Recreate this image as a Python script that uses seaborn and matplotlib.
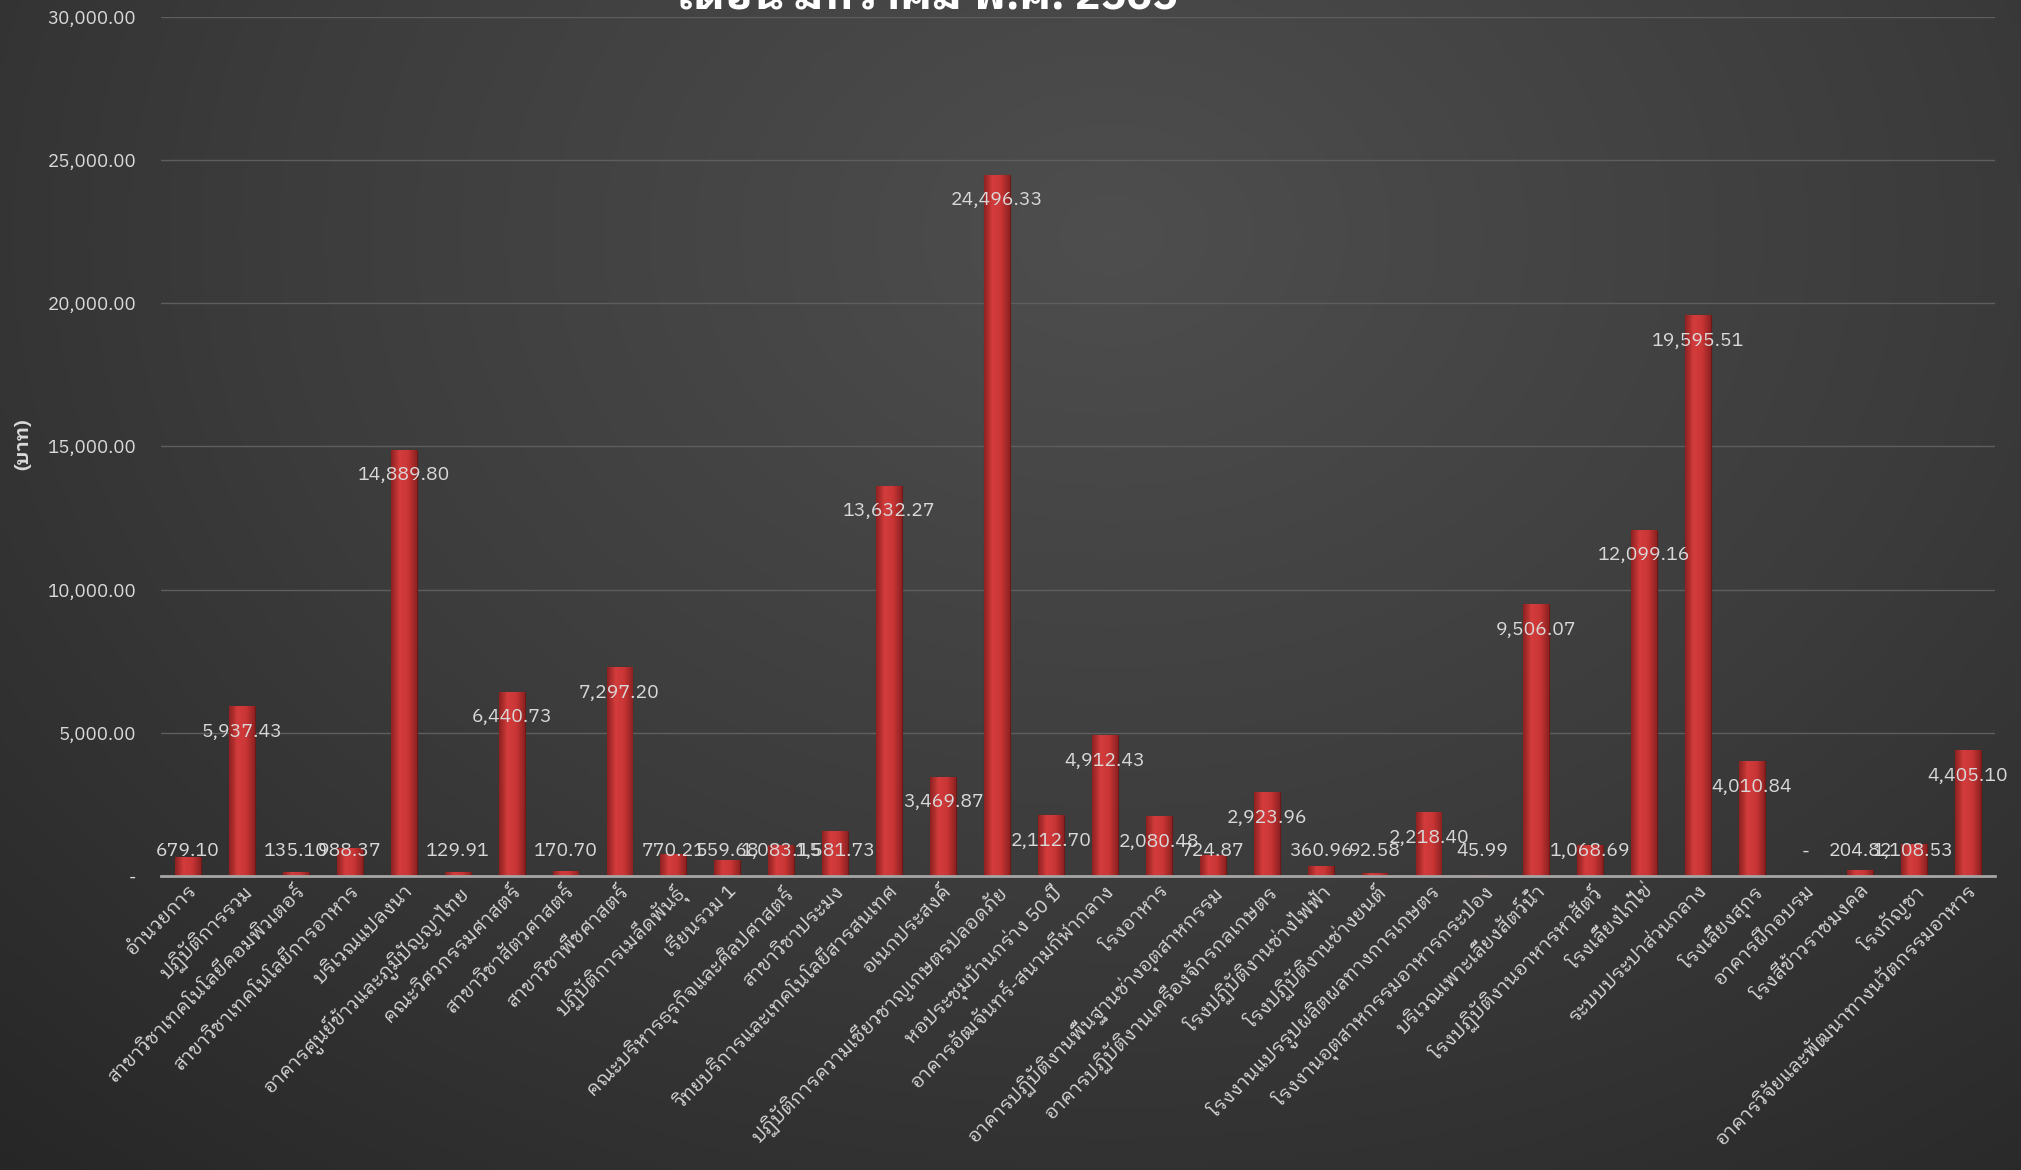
import numpy as np
import pandas as pd
import seaborn as sns
import matplotlib.pyplot as plt
from matplotlib import font_manager as fm
from matplotlib.ft2font import FT2Font
from matplotlib.colors import LinearSegmentedColormap
from matplotlib.ticker import FuncFormatter

buildings = [
    'อำนวยการ', 'ปฏิบัติการรวม', 'สาขาวิชาเทคโนโลยีคอมพิวเตอร์', 'สาขาวิชาเทคโนโลยีการอาหาร',
    'บริเวณแปลงนา', 'อาคารศูนย์ข้าวและภูมิปัญญาไทย', 'คณะวิศวกรรมศาสตร์', 'สาขาวิชาสัตวศาสตร์',
    'สาขาวิชาพืชศาสตร์', 'ปฏิบัติการเมล็ดพันธุ์', 'เรียนรวม 1', 'คณะบริหารธุรกิจและศิลปศาสตร์',
    'สาขาวิชาประมง', 'วิทยบริการและเทคโนโลยีสารสนเทศ', 'อเนกประสงค์',
    'ปฏิบัติการความเชี่ยวชาญเกษตรปลอดภัย', 'หอประชุมบ้านกร่าง 50 ปี', 'อาคารอัฒจันทร์-สนามกีฬากลาง',
    'โรงอาหาร', 'อาคารปฏิบัติงานพื้นฐานช่างอุตสาหกรรม', 'อาคารปฏิบัติงานเครื่องจักรกลเกษตร',
    'โรงปฏิบัติงานช่างไฟฟ้า', 'โรงปฏิบัติงานช่างยนต์', 'โรงงานแปรรูปผลิตผลทางการเกษตร',
    'โรงงานอุตสาหกรรมอาหารกระป๋อง', 'บริเวณเพาะเลี้ยงสัตว์น้ำ', 'โรงปฏิบัติงานอาหารหาสัตว์',
    'โรงเลี้ยงไก่ไข่', 'ระบบประปาส่วนกลาง', 'โรงเลี้ยงสุกร', 'อาคารฝึกอบรม', 'โรงสีข้าวราชมงคล',
    'โรงกัญชา', 'อาคารวิจัยและพัฒนาทางนวัตกรรมอาหาร',
]
cost = [
    679.10, 5937.43, 135.10, 988.37, 14889.80, 129.91, 6440.73, 170.70,
    7297.20, 770.21, 559.68, 1083.15, 1581.73, 13632.27, 3469.87,
    24496.33, 2112.70, 4912.43, 2080.48, 724.87, 2923.96,
    360.96, 92.58, 2218.40, 45.99, 9506.07, 1068.69,
    12099.16, 19595.51, 4010.84, 0.0, 204.82, 1108.53, 4405.10,
]
title = 'เดือน มกราคม พ.ศ. 2565'

df = pd.DataFrame({'building': buildings, 'cost': cost})

# find a font that has Thai glyphs, prefer a looped one
thai_font = None
best = -1
for f in fm.fontManager.ttflist:
    try:
        if 0x0E01 not in FT2Font(f.fname).get_charmap():
            continue
    except Exception:
        continue
    score = 0
    if 'Thai' in f.name:
        score += 1
    if 'Looped' in f.name or 'Tahoma' in f.name or 'Leelawadee' in f.name:
        score += 2
    if score > best:
        best = score
        thai_font = f.name

sns.set_theme(style='dark')
fams = [thai_font, 'DejaVu Sans'] if thai_font else ['DejaVu Sans']
plt.rcParams['font.family'] = fams

fig = plt.figure(figsize=(20.21, 11.70), dpi=100)

# dark radial background
bg = fig.add_axes([0, 0, 1, 1], zorder=-5)
yy, xx = np.mgrid[0:1:300j, 0:1:500j]
r = np.sqrt(((xx - 0.55) / 0.75) ** 2 + ((yy - 0.2) / 1.0) ** 2)
cm = LinearSegmentedColormap.from_list('bg', ['#4e4e4e', '#3c3c3c', '#262626'])
bg.imshow(r, cmap=cm, aspect='auto', extent=[0, 1, 1, 0], vmin=0, vmax=1.1)
bg.axis('off')

ax = fig.add_axes([0.0797, 0.2513, 0.9073, 0.7342])
ax.set_facecolor('none')
sns.barplot(data=df, x='building', y='cost', ax=ax, color='#c93535', width=0.48,
            edgecolor='#6e1818', linewidth=0.8, saturation=1, zorder=3)

# shade each bar: darker sides, lighter middle
shade = LinearSegmentedColormap.from_list('bar', ['#8e2222', '#d43c3c', '#c93535', '#8e2222'])
grad = np.linspace(0, 1, 64).reshape(1, -1)
for p in ax.patches:
    x0, w, h = p.get_x(), p.get_width(), p.get_height()
    if h <= 0:
        continue
    im = ax.imshow(grad, cmap=shade, aspect='auto', extent=[x0, x0 + w, 0, h], zorder=3.5)
    im.set_clip_path(p)

ax.set_ylim(0, 30000)
ax.set_xlim(-0.5, len(buildings) - 0.5)
ax.set_yticks(np.arange(0, 30001, 5000))
ax.yaxis.set_major_formatter(FuncFormatter(lambda v, p: '-' if v == 0 else f'{v:,.2f}'))
ax.grid(axis='y', color='#5e5e5e', linewidth=1, zorder=0)
ax.grid(axis='x', visible=False)
for s in ['top', 'right', 'left']:
    ax.spines[s].set_visible(False)
ax.spines['bottom'].set_color('#a6a6a6')
ax.spines['bottom'].set_linewidth(2)
ax.spines['bottom'].set_zorder(4)
ax.tick_params(axis='y', colors='#d9d9d9', labelsize=13.5, length=0, pad=18)
ax.tick_params(axis='x', colors='#d9d9d9', labelsize=14, length=0, pad=4)
plt.setp(ax.get_xticklabels(), rotation=45, ha='right', rotation_mode='anchor')
ax.set_xlabel('')
ax.set_ylabel('')
fig.text(0.0115, 0.62, '(บาท)', rotation=90, ha='center', va='center', color='#d9d9d9',
         fontsize=14, fontweight='bold')

for i, v in enumerate(cost):
    txt = '-' if v == 0 else f'{v:,.2f}'
    ax.text(i, max(v - 900, 860), txt, ha='center', va='center', color='#d9d9d9',
            fontsize=14, zorder=5)

fig.text(0.459, 0.993, title, ha='center', va='baseline', color='white',
         fontsize=31, fontweight='bold')

fig.savefig('out.png', dpi=100)
